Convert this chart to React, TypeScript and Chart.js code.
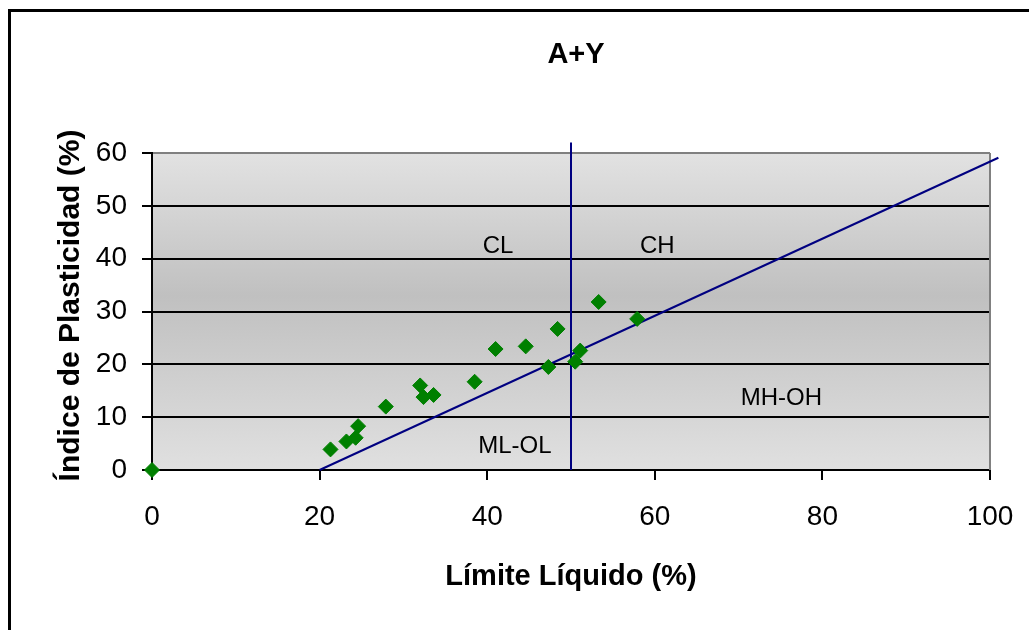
import React, { useEffect, useRef } from 'react';
import { Chart, registerables } from 'chart.js';

Chart.register(...registerables);

const FONT = '"Liberation Sans", Arial, Helvetica, sans-serif';

// Sample points: Límite Líquido (x) vs Índice de Plasticidad (y)
const liquidLimit = [0, 21.3, 23.2, 24.3, 24.6, 27.9, 32.0, 32.4, 33.6, 38.5, 41.0, 44.6, 47.3, 48.4, 50.5, 51.1, 53.3, 57.9];
const plasticityIndex = [0, 3.9, 5.4, 6.1, 8.3, 12.0, 16.0, 13.8, 14.2, 16.7, 22.9, 23.4, 19.5, 26.7, 20.5, 22.6, 31.8, 28.6];

// A-line endpoints
const aLineLL = [20, 101];
const aLinePI = [0, 59.1];

// Vertical line at LL = 50
const bLineLL = [50, 50];
const bLinePI = [0, 62];

// Zone labels
const zoneNames = ['CL', 'CH', 'ML-OL', 'MH-OH'];
const zoneLL = [41.3, 60.3, 43.3, 75.1];
const zonePI = [42.4, 42.4, 4.5, 13.6];

const chartTitle = 'A+Y';
const xTitle = 'Límite Líquido (%)';
const yTitle = 'Índice de Plasticidad (%)';

const toXY = (xs: number[], ys: number[]) => xs.map((x, i) => ({ x, y: ys[i] }));

const decorPlugin = {
  id: 'decor',
  beforeDraw(chart: any) {
    const { ctx, chartArea } = chart;
    const { left, top, right, bottom } = chartArea;
    ctx.save();
    const g = ctx.createLinearGradient(0, top, 0, bottom);
    g.addColorStop(0, '#e2e2e2');
    g.addColorStop(0.45, '#c0c0c0');
    g.addColorStop(1, '#e0e0e0');
    ctx.fillStyle = g;
    ctx.fillRect(left, top, right - left, bottom - top);
    // outer chart border
    ctx.strokeStyle = '#000';
    ctx.lineWidth = 3;
    ctx.strokeRect(9.5, 10.5, 2000, 2000);
    ctx.restore();
  },
  beforeDatasetsDraw(chart: any) {
    const { ctx, chartArea, scales } = chart;
    ctx.save();
    ctx.strokeStyle = '#808080';
    ctx.lineWidth = 2;
    ctx.beginPath();
    ctx.moveTo(chartArea.right, chartArea.top);
    ctx.lineTo(chartArea.right, chartArea.bottom);
    ctx.stroke();
    ctx.fillStyle = '#000';
    ctx.font = `24px ${FONT}`;
    ctx.textAlign = 'center';
    ctx.textBaseline = 'middle';
    zoneNames.forEach((name, i) => {
      ctx.fillText(name, scales.x.getPixelForValue(zoneLL[i]), scales.y.getPixelForValue(zonePI[i]));
    });
    ctx.restore();
  },
  afterDraw(chart: any) {
    const { ctx, chartArea } = chart;
    ctx.save();
    ctx.fillStyle = '#000';
    ctx.font = `bold 29px ${FONT}`;
    ctx.textAlign = 'center';
    ctx.textBaseline = 'middle';
    ctx.fillText(chartTitle, 576, 54.5);
    // y axis title
    ctx.font = `bold 30px ${FONT}`;
    ctx.translate(71, (chartArea.top + chartArea.bottom) / 2 - 6);
    ctx.rotate(-Math.PI / 2);
    ctx.fillText(yTitle, 0, 0);
    ctx.restore();
  },
};

export default function App() {
  const canvasRef = useRef<HTMLCanvasElement | null>(null);

  useEffect(() => {
    if (!canvasRef.current) return;
    const chart = new Chart(canvasRef.current, {
      type: 'scatter',
      data: {
        datasets: [
          {
            label: 'Muestras',
            data: toXY(liquidLimit, plasticityIndex),
            pointStyle: 'rectRot',
            pointRadius: 7.5,
            pointHoverRadius: 7.5,
            backgroundColor: '#008000',
            borderColor: '#008000',
            borderWidth: 1,
            showLine: false,
            clip: false as any,
          },
          {
            label: 'Línea A',
            data: toXY(aLineLL, aLinePI),
            showLine: true,
            borderColor: '#000080',
            borderWidth: 2,
            pointRadius: 0,
            clip: false as any,
          },
          {
            label: 'Línea B',
            data: toXY(bLineLL, bLinePI),
            showLine: true,
            borderColor: '#000080',
            borderWidth: 2,
            pointRadius: 0,
            clip: false as any,
          },
        ],
      },
      options: {
        responsive: false,
        animation: false,
        layout: { padding: { top: 153, right: 39, bottom: 0, left: 0 } },
        plugins: {
          legend: { display: false },
          tooltip: { enabled: false },
          title: { display: false },
        },
        scales: {
          x: {
            type: 'linear',
            min: 0,
            max: 100,
            ticks: { stepSize: 20, color: '#000', font: { size: 28, family: FONT }, padding: 20 },
            grid: { drawOnChartArea: false, drawTicks: true, tickLength: 10, tickColor: '#000', lineWidth: 2 },
            border: { color: '#000', width: 2 },
            title: {
              display: true,
              text: xTitle,
              color: '#000',
              font: { size: 29, weight: 'bold', family: FONT },
              padding: { top: 0, bottom: 36 },
            },
            afterFit: (s: any) => {
              s.height = 160;
              s.paddingLeft = 0;
              s.paddingRight = 0;
            },
          },
          y: {
            type: 'linear',
            min: 0,
            max: 60,
            ticks: { stepSize: 10, color: '#000', font: { size: 28, family: FONT }, padding: 15 },
            grid: {
              color: (c: any) => (c.tick && c.tick.value === 60 ? '#808080' : '#000'),
              lineWidth: 2,
              drawTicks: true,
              tickLength: 10,
              tickColor: '#000',
            },
            border: { color: '#000', width: 2 },
            title: { display: false },
            afterFit: (s: any) => { s.width = 152; },
          },
        },
      },
      plugins: [decorPlugin],
    } as any);
    return () => chart.destroy();
  }, []);

  return (
    <div style={{ position: 'fixed', left: 0, top: 0, width: 1029, height: 630, background: '#fff' }}>
      <canvas ref={canvasRef} width={1029} height={630} style={{ display: 'block' }} />
    </div>
  );
}
